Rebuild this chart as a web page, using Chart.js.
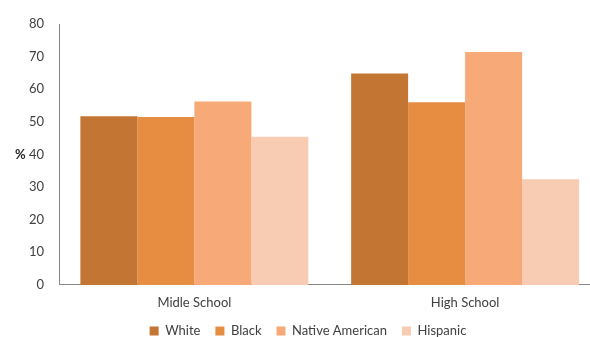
<!DOCTYPE html>
<html lang="en">

<head>
  <meta charset="UTF-8">
  <title>Chart</title>
  <script src="https://cdn.jsdelivr.net/npm/chart.js"></script>
  <style>
    body { margin: 0; overflow: hidden; background: #fff; }
  </style>
</head>

<body>
  <canvas id="schoolChart" width="616" height="337"></canvas>

  <script>
    // Data
    const categories = ['Midle School', 'High School'];
    const groups = ['White', 'Black', 'Native American', 'Hispanic'];
    const white = [51.7, 64.8];
    const black = [51.5, 56.0];
    const nativeAmerican = [56.2, 71.4];
    const hispanic = [45.4, 32.4];
    const yTicks = [0, 10, 20, 30, 40, 50, 60, 70, 80];

    const colors = ['#C37534', '#E68D42', '#F7AA78', '#F8CBB3'];
    const series = [white, black, nativeAmerican, hispanic];

    // draws the "%" label beside the 40 tick
    const percentLabel = {
      id: 'percentLabel',
      afterDraw(chart) {
        const ctx = chart.ctx;
        const y = chart.scales.y.getPixelForValue(40);
        ctx.save();
        ctx.font = 'bold 13px Lato';
        ctx.fillStyle = '#262626';
        ctx.textAlign = 'left';
        ctx.textBaseline = 'middle';
        ctx.fillText('%', 15, y);
        ctx.restore();
      }
    };

    const ctx = document.getElementById('schoolChart').getContext('2d');
    new Chart(ctx, {
      type: 'bar',
      data: {
        labels: categories,
        datasets: groups.map((g, i) => ({
          label: g,
          data: series[i],
          backgroundColor: colors[i],
          borderWidth: 0,
          categoryPercentage: 0.842,
          barPercentage: 1
        }))
      },
      options: {
        responsive: false,
        animation: false,
        layout: { padding: { left: 15.5, right: 15.5, top: 24, bottom: -10.5 } },
        scales: {
          x: {
            afterFit: scale => { scale.height -= 3; },
            grid: { display: false },
            border: { display: true, color: '#868686' },
            ticks: { color: '#404040', font: { family: 'Lato', size: 13 }, padding: 2 }
          },
          y: {
            min: 0,
            max: 80,
            afterBuildTicks: scale => { scale.ticks = yTicks.map(v => ({ value: v })); },
            afterFit: scale => { scale.width = 43.5; },
            grid: { display: false, drawTicks: false },
            border: { display: true, color: '#868686' },
            ticks: { color: '#404040', font: { family: 'Lato', size: 13 }, padding: 15 }
          }
        },
        plugins: {
          legend: {
            position: 'bottom',
            labels: {
              color: '#404040',
              font: { family: 'Lato', size: 13 },
              boxWidth: 9,
              boxHeight: 9,
              padding: 15
            }
          },
          tooltip: { enabled: false }
        }
      },
      plugins: [percentLabel]
    });
  </script>
</body>

</html>
